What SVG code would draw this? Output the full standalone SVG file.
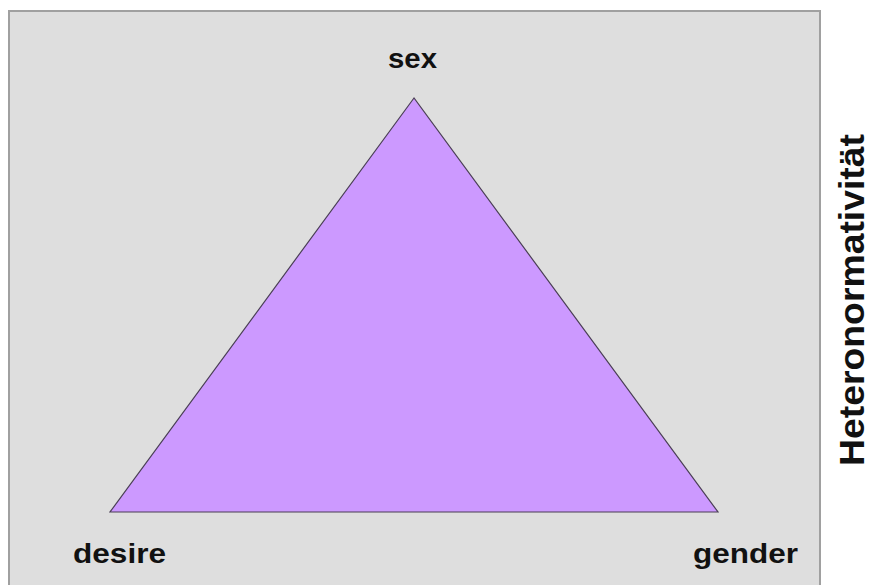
<svg xmlns="http://www.w3.org/2000/svg" width="875" height="585" viewBox="0 0 875 585">
<style>
.lbl{font-family:"Liberation Sans",Arial,sans-serif;font-weight:bold;font-size:27px;fill:#111}
.side{font-family:"Liberation Sans",Arial,sans-serif;font-weight:bold;font-size:35px;fill:#111}
</style>
<rect x="0" y="0" width="875" height="585" fill="#ffffff"/>
<g id="frame">
<rect x="9" y="11" width="811" height="590" fill="#dedede" stroke="#a0a0a0" stroke-width="2"/>
</g>
<g id="triangle">
<polygon points="414,98 110,512 718,512" fill="#cc99ff" stroke="#4a3f55" stroke-width="1.2"/>
</g>
<g id="connectors"></g>
<g id="node-sex"><text class="lbl" x="388" y="68" textLength="49" lengthAdjust="spacingAndGlyphs">sex</text></g>
<g id="node-desire"><text class="lbl" x="73" y="563" textLength="93" lengthAdjust="spacingAndGlyphs">desire</text></g>
<g id="node-gender"><text class="lbl" x="693" y="563" textLength="105" lengthAdjust="spacingAndGlyphs">gender</text></g>
<g id="label-side"><text class="side" transform="translate(864,466) rotate(-90)" textLength="332" lengthAdjust="spacingAndGlyphs">Heteronormativität</text></g>
</svg>
